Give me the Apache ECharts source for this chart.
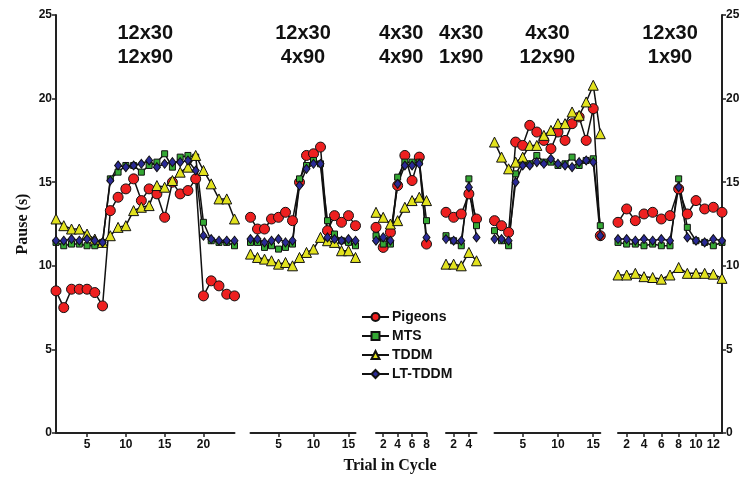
<!DOCTYPE html>
<html>
<head>
<meta charset="utf-8">
<script src="https://cdn.jsdelivr.net/npm/echarts@6/dist/echarts.min.js"></script>
<style>
  html, body { margin: 0; padding: 0; background: #fff; }
  #chart { width: 748px; height: 477px; }
</style>
</head>
<body>
<div id="chart"></div>
<script>
// condition labels, one per block of trials
var blockLabels = ['12x30\n12x90', '12x30\n4x90', '4x30\n4x90', '4x30\n1x90', '4x30\n12x90', '12x30\n1x90'];
// ticks shown under each block
var blockTicks = [[5, 10, 15, 20], [5, 10, 15], [2, 4, 6, 8], [2, 4], [5, 10, 15], [2, 4, 6, 8, 10, 12]];
var yTicks = [0, 5, 10, 15, 20, 25];

// pause (s) per trial, one list per block
var pigeons = [
    [8.5, 7.5, 8.6, 8.6, 8.6, 8.4, 7.6, 13.3, 14.1, 14.6, 15.2, 13.9, 14.6, 14.3, 12.9, 15.0, 14.3, 14.5, 15.2, 8.2, 9.1, 8.8, 8.3, 8.2],
    [12.9, 12.2, 12.2, 12.8, 12.9, 13.2, 12.7, 15.0, 16.6, 16.7, 17.1, 12.1, 13.0, 12.6, 13.0, 12.4],
    [12.3, 11.1, 12.0, 14.8, 16.6, 15.1, 16.5, 11.3],
    [13.2, 12.9, 13.1, 14.3, 12.8],
    [12.7, 12.4, 12.0, 17.4, 17.2, 18.4, 18.0, 17.5, 17.0, 18.0, 17.5, 18.5, 18.9, 17.5, 19.4, 11.8],
    [12.6, 13.4, 12.7, 13.1, 13.2, 12.8, 13.0, 14.6, 13.1, 13.9, 13.4, 13.5, 13.2]
];
var mts = [
    [11.4, 11.2, 11.3, 11.3, 11.2, 11.2, 11.4, 15.2, 15.6, 16.0, 16.0, 15.6, 16.0, 16.2, 16.7, 15.9, 16.5, 16.6, 16.5, 12.6, 11.5, 11.4, 11.4, 11.2],
    [11.4, 11.4, 11.1, 11.2, 11.0, 11.1, 11.3, 15.2, 16.0, 16.3, 16.1, 12.7, 11.9, 11.5, 11.4, 11.2],
    [11.8, 11.3, 11.3, 15.3, 16.2, 16.2, 16.2, 12.7],
    [11.8, 11.5, 11.2, 15.2, 12.4],
    [12.1, 11.5, 11.2, 15.5, 16.2, 16.1, 16.6, 16.2, 16.2, 16.0, 16.1, 16.5, 16.0, 16.3, 16.4, 12.4],
    [11.4, 11.3, 11.3, 11.2, 11.3, 11.2, 11.2, 15.2, 12.3, 11.5, 11.4, 11.2, 11.4]
];
var tddm = [
    [12.8, 12.4, 12.2, 12.2, 11.9, 11.6, 11.4, 11.8, 12.3, 12.4, 13.3, 13.5, 13.6, 14.8, 14.7, 15.1, 15.6, 15.9, 16.6, 15.7, 14.9, 14.0, 14.0, 12.8],
    [10.7, 10.5, 10.4, 10.3, 10.1, 10.2, 10.0, 10.5, 10.8, 11.0, 11.7, 11.5, 11.4, 10.9, 10.9, 10.5],
    [13.2, 12.9, 12.5, 12.7, 13.5, 13.9, 14.1, 13.9],
    [10.1, 10.1, 10.0, 10.8, 10.3],
    [17.4, 16.5, 15.8, 16.2, 16.5, 17.2, 17.2, 17.8, 18.1, 18.5, 18.5, 19.2, 19.0, 19.8, 20.8, 17.9],
    [9.45, 9.45, 9.55, 9.35, 9.3, 9.2, 9.45, 9.9, 9.55, 9.55, 9.55, 9.5, 9.25]
];
var ltTddm = [
    [11.5, 11.5, 11.6, 11.5, 11.6, 11.5, 11.4, 15.1, 16.0, 15.9, 16.0, 16.1, 16.3, 15.9, 16.1, 16.2, 16.2, 16.3, 15.7, 11.8, 11.6, 11.5, 11.5, 11.5],
    [11.6, 11.6, 11.4, 11.5, 11.6, 11.4, 11.5, 14.8, 15.8, 16.1, 16.1, 11.7, 11.6, 11.5, 11.6, 11.5],
    [11.5, 11.7, 11.5, 14.9, 16.0, 16.0, 16.1, 11.7],
    [11.6, 11.5, 11.5, 14.7, 11.7],
    [11.6, 11.6, 11.5, 15.0, 16.0, 16.0, 16.2, 16.1, 16.4, 16.1, 16.0, 15.9, 16.2, 16.3, 16.2, 11.8],
    [11.6, 11.6, 11.5, 11.6, 11.5, 11.6, 11.5, 14.7, 11.7, 11.5, 11.4, 11.6, 11.5]
];

// layout of each block in pixels
var blockLeft = [56, 250.5, 376, 446, 494.5, 618];
var blockWidth = [178.5, 105, 50.5, 30.5, 105.8, 104];

var chart = echarts.init(document.getElementById('chart'));

var sansBold = {fontFamily: 'Liberation Sans', fontWeight: 'bold', color: '#111'};
var grids = [], xAxes = [], yAxes = [], series = [], graphics = [];

var kinds = [
    {name: 'Pigeons', data: pigeons, symbol: 'circle', size: 10, color: '#ee2020'},
    {name: 'MTS', data: mts, symbol: 'rect', size: 6, color: '#34a834'},
    {name: 'TDDM', data: tddm, symbol: 'triangle', size: 10, color: '#e2e21e'},
    {name: 'LT-TDDM', data: ltTddm, symbol: 'diamond', size: [7, 9], color: '#2a2a96'}
];

blockLabels.forEach(function (label, b) {
    var n = pigeons[b].length;
    grids.push({left: blockLeft[b], width: blockWidth[b], top: 15, bottom: 44});
    xAxes.push({
        type: 'value', gridIndex: b, min: 1, max: n,
        splitLine: {show: false},
        axisLine: {onZero: false, lineStyle: {color: '#222', width: 2}},
        axisTick: {customValues: blockTicks[b], length: 4, lineStyle: {color: '#222', width: 1.5}},
        axisLabel: Object.assign({customValues: blockTicks[b], fontSize: 12, margin: 6}, sansBold)
    });
    var showY = (b === 0 || b === blockLabels.length - 1);
    yAxes.push({
        type: 'value', gridIndex: b, min: 0, max: 25, interval: 5,
        show: showY,
        position: b === 0 ? 'left' : 'right',
        name: b === 0 ? 'Pause (s)' : '',
        nameLocation: 'middle', nameRotate: 90, nameGap: 25,
        nameTextStyle: {fontFamily: 'Liberation Serif', fontWeight: 'bold', fontSize: 16, color: '#111'},
        splitLine: {show: false},
        axisLine: {show: true, lineStyle: {color: '#222', width: 2}},
        axisTick: {show: true, length: 4, lineStyle: {color: '#222', width: 1.5}},
        axisLabel: Object.assign({fontSize: 12, margin: 4}, sansBold)
    });
    kinds.forEach(function (k) {
        series.push({
            name: k.name, type: 'line', xAxisIndex: b, yAxisIndex: b,
            data: k.data[b].map(function (v, i) { return [i + 1, v]; }),
            symbol: k.symbol, symbolSize: k.size, showAllSymbol: true,
            lineStyle: {color: '#111', width: 1.5},
            itemStyle: {color: k.color, borderColor: '#111', borderWidth: 1},
            emphasis: {disabled: true}
        });
    });
    graphics.push({
        type: 'text', x: blockLeft[b] + blockWidth[b] / 2, y: 21,
        style: {text: label, fontFamily: 'Liberation Sans', fontWeight: 'bold', fontSize: 20, lineHeight: 24, align: 'center', fill: '#111'}
    });
});

graphics.push({
    type: 'text', x: 390, y: 458,
    style: {text: 'Trial in Cycle', fontFamily: 'Liberation Serif', fontWeight: 'bold', fontSize: 16, fill: '#111', align: 'center'}
});

var option = {
    animation: false,
    grid: grids,
    xAxis: xAxes,
    yAxis: yAxes,
    legend: {
        data: kinds.map(function (k) { return k.name; }),
        orient: 'vertical', left: 356, top: 305,
        itemWidth: 27, itemHeight: 10, itemGap: 5,
        textStyle: {fontFamily: 'Liberation Sans', fontWeight: 'bold', fontSize: 14, color: '#111', padding: [0, 0, 0, -2]}
    },
    graphic: graphics,
    series: series
};

chart.setOption(option);
window.addEventListener('resize', function () {
    chart.resize();
});
</script>
</body>
</html>
